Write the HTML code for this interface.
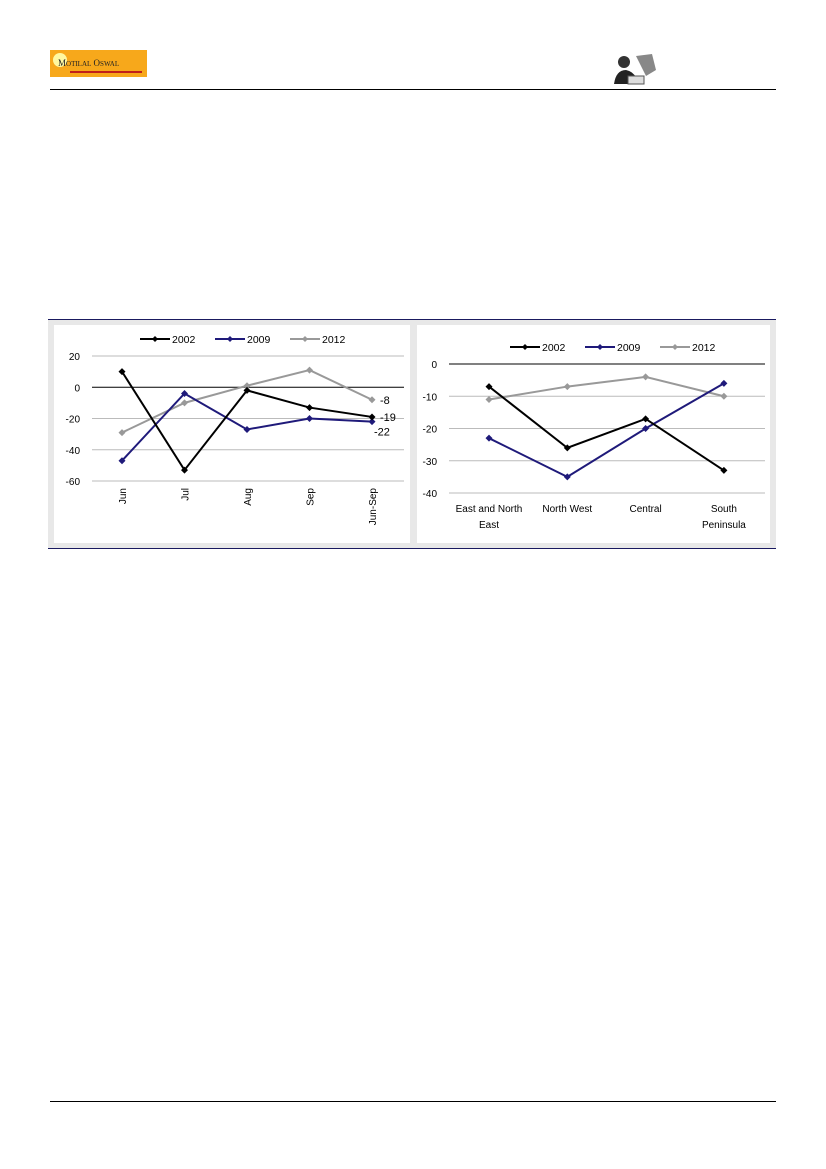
<!DOCTYPE html>
<html><head><meta charset="utf-8"><style>
body{margin:0;width:826px;height:1169px;background:#fff;position:relative;font-family:"Liberation Sans",sans-serif;overflow:hidden}
.abs{position:absolute}
</style></head><body>
<div class="abs" style="left:50px;top:50px;width:97px;height:27px;background:#f7a81b">
 <div class="abs" style="left:3px;top:3px;width:14px;height:14px;border-radius:50%;background:#fff8a0"></div>
 <div class="abs" style="left:8px;top:8px;font-family:'Liberation Serif',serif;font-size:9px;color:#222">M<span style="font-size:7px">OTILAL</span> O<span style="font-size:7px">SWAL</span></div>
 <div class="abs" style="left:20px;top:21px;width:72px;height:2px;background:#c0201a"></div>
</div>
<div class="abs" style="left:612px;top:50px;width:50px;height:36px">
 <svg width="50" height="36"><circle cx="12" cy="12" r="6" fill="#333"/><path d="M2 34 Q4 20 14 20 Q24 22 26 34Z" fill="#222"/><path d="M24 6 L40 4 L44 20 L34 26 Z" fill="#888"/><rect x="16" y="26" width="16" height="8" fill="#ddd" stroke="#555"/></svg>
</div>
<div class="abs" style="left:50px;top:89px;width:726px;height:1px;background:#000"></div>
<div class="abs" style="left:48px;top:319px;width:728px;height:1px;background:#1a1a60"></div>
<div class="abs" style="left:48px;top:548px;width:728px;height:1px;background:#1a1a60"></div>
<div class="abs" style="left:48px;top:320px;width:728px;height:228px;background:#e8e8e8"></div>
<div class="abs" style="left:54px;top:325px;width:356px;height:218px;background:#fff"></div>
<div class="abs" style="left:417px;top:325px;width:353px;height:218px;background:#fff"></div>
<div class="abs" style="left:50px;top:1101px;width:726px;height:1px;background:#000"></div>
<svg class="abs" style="left:0;top:0" width="826" height="1169" id="svg"></svg>
<script>
const leftCats=["Jun","Jul","Aug","Sep","Jun-Sep"];
const left2002=[10,-53,-2,-13,-19];
const left2009=[-47,-4,-27,-20,-22];
const left2012=[-29,-10,1,11,-8];
const leftTicks=[20,0,-20,-40,-60];
const rightCats=[["East and North","East"],["North West"],["Central"],["South","Peninsula"]];
const right2002=[-7,-26,-17,-33];
const right2009=[-23,-35,-20,-6];
const right2012=[-11,-7,-4,-10];
const rightTicks=[0,-10,-20,-30,-40];
const colors={"2002":"#000","2009":"#1f1a7a","2012":"#999"};
const svg=document.getElementById('svg');
const NS="http://www.w3.org/2000/svg";
function mk(t,a,txt){const e=document.createElementNS(NS,t);for(const k in a)e.setAttribute(k,a[k]);if(txt!==undefined)e.textContent=txt;svg.appendChild(e);return e;}
function chart(o){
 const y=v=>o.y0+(v-o.vmax)*(o.y1-o.y0)/(o.vmin-o.vmax);
 const x=i=>o.cx0+i*o.step;
 o.ticks.forEach(t=>{
  const g=mk('line',{x1:o.px0,x2:o.px1,y1:y(t),y2:y(t),stroke:t===0?'#000':'#bbb','stroke-width':1});
  
  const l=mk('text',{x:o.px0-12,y:y(t)+4,'text-anchor':'end','font-size':10,fill:'#000'},t);
  
 });
 o.series.forEach(s=>{
  const pts=s.vals.map((v,i)=>x(i)+','+y(v)).join(' ');
  const p=mk('polyline',{points:pts,fill:'none',stroke:colors[s.name],'stroke-width':2});
  
  s.vals.forEach((v,i)=>{const m=mk('path',{d:`M${x(i)-3.5},${y(v)} l3.5,-3.5 l3.5,3.5 l-3.5,3.5z`,fill:colors[s.name]});
   });
 });
 o.legend.forEach((L,i)=>{
  const lx=L[1];
  mk('line',{x1:lx,x2:lx+30,y1:o.ly,y2:o.ly,stroke:colors[L[0]],'stroke-width':2});
  mk('path',{d:`M${lx+12},${o.ly} l3,-3 l3,3 l-3,3z`,fill:colors[L[0]]});
  const t=mk('text',{x:lx+32,y:o.ly+4,'font-size':10.5},L[0]);
  
 });
 return {x,y};
}
const A=chart({id:'left-chart',y0:356,y1:481,vmax:20,vmin:-60,cx0:122,step:62.5,px0:92,px1:404,ticks:leftTicks,ly:339,
 series:[{name:"2012",vals:left2012},{name:"2009",vals:left2009},{name:"2002",vals:left2002}],
 legend:[["2002",140],["2009",215],["2012",290]]});
leftCats.forEach((c,i)=>{const t=mk('text',{transform:`translate(${A.x(i)+4},${488}) rotate(-90)`,'text-anchor':'end','font-size':10},c);
 });
const li=leftCats.length-1;
[[left2012[li],8,0],[left2002[li],8,0],[left2009[li],2,10]].forEach(d=>{
 const t=mk('text',{x:A.x(li)+d[1],y:A.y(d[0])+4+d[2],'font-size':11},d[0]);
 });
const B=chart({id:'right-chart',y0:364,y1:493,vmax:0,vmin:-40,cx0:489,step:78.3,px0:449,px1:765,ticks:rightTicks,ly:347,
 series:[{name:"2012",vals:right2012},{name:"2009",vals:right2009},{name:"2002",vals:right2002}],
 legend:[["2002",510],["2009",585],["2012",660]]});
rightCats.forEach((c,i)=>c.forEach((s,j)=>{const t=mk('text',{x:B.x(i),y:512+j*16,'text-anchor':'middle','font-size':10},s);
 }));
</script>
</body></html>
